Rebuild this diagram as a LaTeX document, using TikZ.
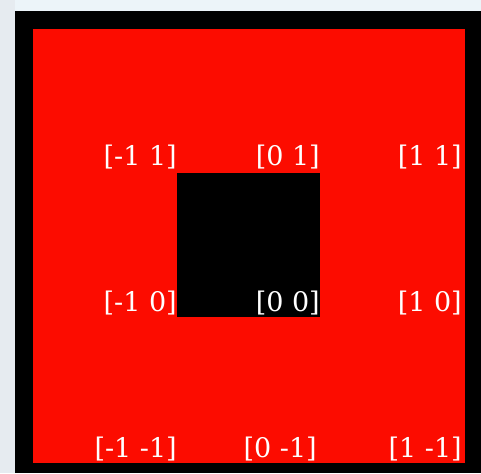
\documentclass[tikz,border=0pt]{standalone}
\usepackage{fontspec}
\setmainfont{DejaVu Serif}
\definecolor{bgleft}{RGB}{230,235,240}
\definecolor{bgtop}{RGB}{236,244,249}
\definecolor{cellred}{RGB}{252,12,0}
\tikzset{
  lbl/.style={anchor=base east, inner sep=0pt, text=white, font=\fontsize{27}{27}\selectfont}
}
\begin{document}
\begin{tikzpicture}[x=1pt,y=-1pt]
\useasboundingbox (0,0) rectangle (481,473);
\fill[bgleft] (0,0) rectangle (481,473);
\fill[bgtop] (15,0) rectangle (481,11);
\fill[black] (15,11) rectangle (481,473);
\fill[cellred] (33,29) rectangle (465,463);
\fill[black] (177,173) rectangle (320,317);
\node[lbl] (nw) at (177,165) {[-1 1]};
\node[lbl] (n)  at (320,165) {[0 1]};
\node[lbl] (ne) at (462,165) {[1 1]};
\node[lbl] (w)  at (177,311) {[-1 0]};
\node[lbl] (c)  at (320,311) {[0 0]};
\node[lbl] (e)  at (462,311) {[1 0]};
\node[lbl] (sw) at (177,457) {[-1 -1]};
\node[lbl] (s)  at (317,457) {[0 -1]};
\node[lbl] (se) at (462,457) {[1 -1]};
\end{tikzpicture}
\end{document}
